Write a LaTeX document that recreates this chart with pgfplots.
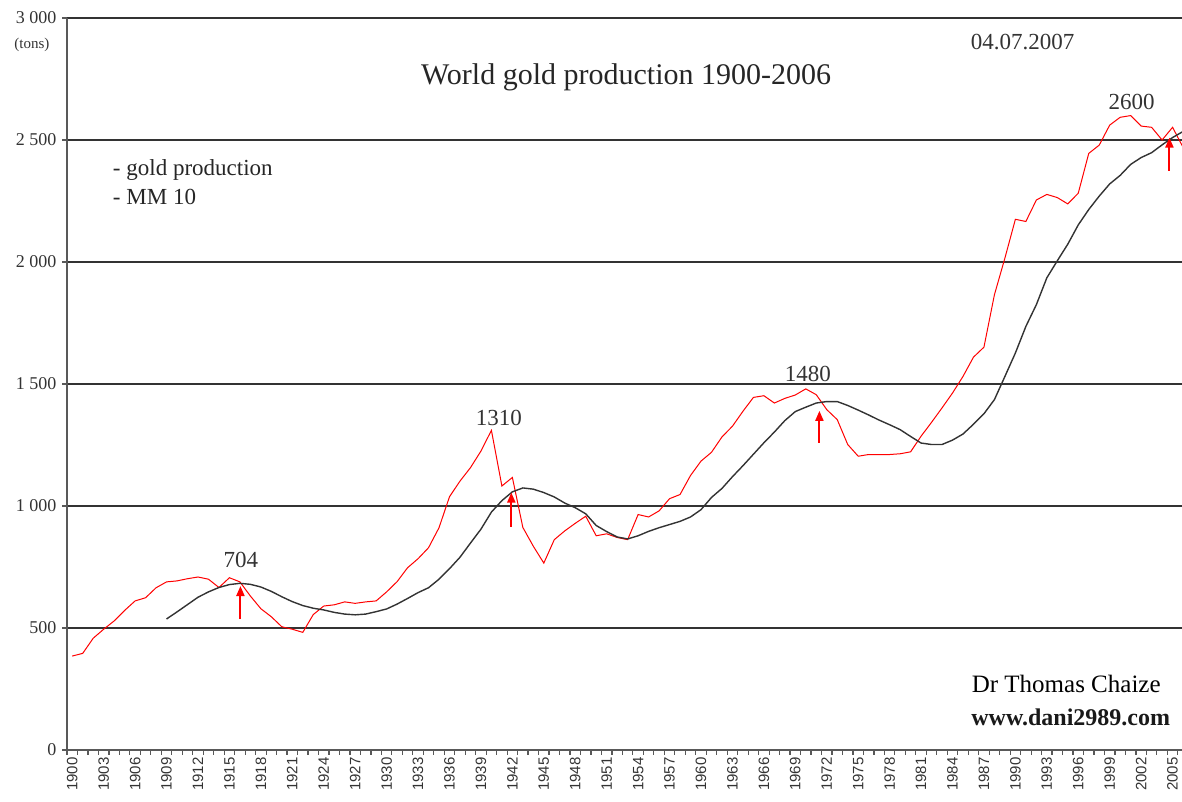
\documentclass[border=0pt]{standalone}
\usepackage{fontspec}
\setmainfont{Liberation Serif}
\newfontfamily\sansf{Liberation Sans}
\usepackage{pgfplots}
\pgfplotsset{compat=1.18}
\usetikzlibrary{arrows.meta}

\pgfplotstableread{
x y
1900 385
1901 396
1902 458
1903 495
1904 529
1905 572
1906 611
1907 624
1908 665
1909 689
1910 693
1911 702
1912 709
1913 700
1914 666
1915 706
1916 689
1917 631
1918 579
1919 546
1920 505
1921 495
1922 482
1923 555
1924 590
1925 595
1926 607
1927 601
1928 607
1929 611
1930 648
1931 690
1932 747
1933 784
1934 829
1935 911
1936 1038
1937 1102
1938 1157
1939 1225
1940 1310
1941 1082
1942 1117
1943 912
1944 835
1945 766
1946 862
1947 898
1948 929
1949 958
1950 878
1951 886
1952 871
1953 862
1954 965
1955 955
1956 980
1957 1030
1958 1047
1959 1125
1960 1184
1961 1220
1962 1283
1963 1327
1964 1388
1965 1445
1966 1452
1967 1422
1968 1441
1969 1455
1970 1480
1971 1456
1972 1395
1973 1354
1974 1252
1975 1204
1976 1211
1977 1211
1978 1211
1979 1214
1980 1222
1981 1286
1982 1343
1983 1402
1984 1463
1985 1531
1986 1610
1987 1651
1988 1866
1989 2016
1990 2175
1991 2166
1992 2254
1993 2277
1994 2264
1995 2238
1996 2282
1997 2445
1998 2479
1999 2561
2000 2593
2001 2600
2002 2557
2003 2552
2004 2500
2005 2552
2006 2470
}\gold

\pgfplotstableread{
x y
1909 537
1910 566
1911 596
1912 626
1913 648
1914 666
1915 678
1916 683
1917 679
1918 668
1919 650
1920 628
1921 608
1922 592
1923 581
1924 574
1925 564
1926 557
1927 554
1928 557
1929 567
1930 578
1931 598
1932 621
1933 645
1934 665
1935 700
1936 743
1937 790
1938 848
1939 905
1940 975
1941 1022
1942 1058
1943 1074
1944 1069
1945 1055
1946 1037
1947 1012
1948 993
1949 968
1950 920
1951 895
1952 873
1953 865
1954 878
1955 896
1956 911
1957 924
1958 937
1959 955
1960 985
1961 1035
1962 1072
1963 1120
1964 1165
1965 1212
1966 1259
1967 1303
1968 1350
1969 1387
1970 1405
1971 1422
1972 1428
1973 1428
1974 1412
1975 1393
1976 1373
1977 1352
1978 1333
1979 1313
1980 1285
1981 1258
1982 1252
1983 1252
1984 1270
1985 1295
1986 1335
1987 1378
1988 1436
1989 1531
1990 1627
1991 1736
1992 1825
1993 1935
1994 2005
1995 2073
1996 2152
1997 2215
1998 2270
1999 2320
2000 2355
2001 2400
2002 2428
2003 2448
2004 2480
2005 2510
2006 2535
}\mm

\begin{document}
\begin{tikzpicture}
\begin{axis}[
  name=ax,
  scale only axis, width=1115pt, height=732pt,
  xmin=1899.5, xmax=2005.9, ymin=0, ymax=3000,
  axis x line*=bottom, axis y line*=left,
  axis line style={black!65, line width=1.6pt},
  tick align=outside, major tick length=5pt,
  tick style={black!65, line width=1.2pt},
  ytick={0,500,...,3000},
  yticklabels={0,500,1 000,1 500,2 000,2 500,3 000},
  yticklabel style={font=\fontsize{18}{18}\selectfont, black!80, xshift=-2pt},
  ymajorgrids, grid style={black!80, line width=1.2pt},
  xtick={1899.5,1900.5,...,2005.5}, xticklabels={},
  extra x ticks={1900,1903,...,2005},
  extra x tick style={grid=none, major tick length=0pt,
    tick label style={yshift=-4pt, rotate=90, anchor=east, font=\sansf\fontsize{15}{15}\selectfont, black!80}},
  /pgf/number format/1000 sep={},
  /pgf/number format/assume math mode=true,
]
\addplot[red, line width=1pt] table[x=x,y=y] {\gold};
\addplot[black!80, line width=1.4pt] table[x=x,y=y] {\mm};

\node[font=\fontsize{30}{30}\selectfont, black!85] at (axis cs:1952.85,2758) {World gold production 1900-2006};
\node[font=\fontsize{23}{23}\selectfont, black!80] at (axis cs:1990.7,2902) {04.07.2007};
\node[anchor=west, font=\fontsize{23}{23}\selectfont, black!85] at (axis cs:1903.55,2377) {- gold production};
\node[anchor=west, font=\fontsize{23}{23}\selectfont, black!85] at (axis cs:1903.55,2266) {- MM 10};
\node[anchor=east, font=\fontsize{25}{25}\selectfont, black] at (axis cs:2004.2,270) {Dr Thomas Chaize};
\node[anchor=east, font=\bfseries\fontsize{24}{24}\selectfont, black!90] at (axis cs:2005.1,135) {www.dani2989.com};

\node[font=\fontsize{23}{23}\selectfont, black!80] at (axis cs:1916.1,779) {704};
\node[font=\fontsize{23}{23}\selectfont, black!80] at (axis cs:1940.7,1361) {1310};
\node[font=\fontsize{23}{23}\selectfont, black!80] at (axis cs:1970.2,1541) {1480};
\node[font=\fontsize{23}{23}\selectfont, black!80] at (axis cs:2001.1,2656) {2600};

\draw[red, line width=2pt, -{Triangle[width=8pt,length=10pt]}] (axis cs:1916.05,536) -- (axis cs:1916.05,672);
\draw[red, line width=2pt, -{Triangle[width=8pt,length=10pt]}] (axis cs:1941.9,915) -- (axis cs:1941.9,1055);
\draw[red, line width=2pt, -{Triangle[width=8pt,length=10pt]}] (axis cs:1971.3,1259) -- (axis cs:1971.3,1390);
\draw[red, line width=2pt, -{Triangle[width=8pt,length=10pt]}] (axis cs:2004.7,2374) -- (axis cs:2004.7,2510);
\end{axis}
\node[anchor=east, font=\fontsize{15}{15}\selectfont, black!80] at ([xshift=-14pt,yshift=-27pt]ax.north west) {(tons)};
\pgfresetboundingbox
\path[use as bounding box] (-67pt,-52pt) rectangle (1115pt,750pt);
\end{tikzpicture}
\end{document}
